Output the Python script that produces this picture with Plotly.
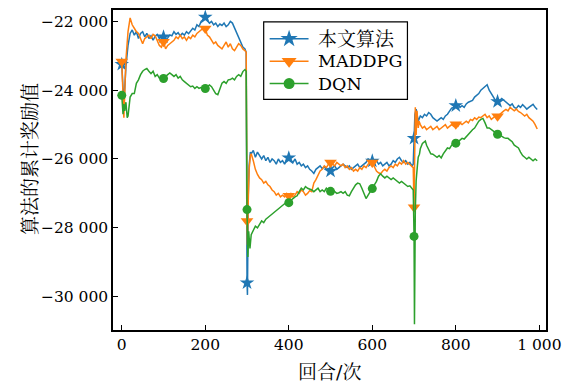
import plotly.graph_objects as go

# Episode grid shared by the three curves (every 5th episode)
episodes = list(range(0, 1000, 5))

# Cumulative reward of the proposed algorithm, sampled every 5 episodes
ours_reward = [
    -23250, -24400, -23300, -22700, -22350, -22250, -22400, -22300, -22500, -22350,
    -22300, -22450, -22350, -22500, -22420, -22550, -22430, -22380, -22500, -22420,
    -22450, -22550, -22480, -22400, -22420, -22300, -22380, -22330, -22420, -22350,
    -22400, -22300, -22360, -22280, -22200, -22250, -22100, -22150, -22000, -21950,
    -21880, -21980, -22050, -22000, -22100, -22050, -22150, -22080, -22120, -22050,
    -22150, -22100, -22000, -22050, -22200, -22350, -22500, -22600, -22750, -22800,
    -29600, -26200, -25850, -25750, -25950, -25800, -25900, -26000, -25900, -26050,
    -25950, -26100, -26000, -26050, -26150, -26000, -26100, -26050, -26150, -26000,
    -25970, -26050, -26100, -26000, -26150, -26100, -26200, -26150, -26250, -26200,
    -26300, -26350, -26420, -26300, -26250, -26200, -26280, -26220, -26300, -26280,
    -26350, -26250, -26200, -26300, -26250, -26200, -26150, -26200, -26250, -26200,
    -26300, -26250, -26200, -26150, -26250, -26200, -26150, -26100, -26000, -26050,
    -26060, -26100, -26050, -26150, -26100, -26200, -26150, -26100, -26200, -26150,
    -26050, -26100, -26000, -25950, -26050, -26100, -26050, -26150, -26100, -26200,
    -25400, -24550, -24900, -24750, -24800, -24700, -24750, -24650, -24700, -24800,
    -24850, -24900, -24850, -24800, -24850, -24750, -24700, -24600, -24520, -24500,
    -24450, -24410, -24500, -24450, -24500, -24400, -24350, -24330, -24300, -24200,
    -24150, -24100, -24000, -23950, -23890, -23840, -24000, -24100, -24200, -24300,
    -24330, -24300, -24240, -24300, -24350, -24400, -24450, -24400, -24500, -24530,
    -24450, -24500, -24420, -24480, -24550, -24500, -24450, -24410, -24500, -24560,
]
# Extra episodes logged around the environment resets
ours_extra = {298: -22900, 301: -29950, 303: -27000, 308: -25800,
              698: -26150, 702: -24700, 708: -24800}

maddpg_reward = [
    -23170, -24800, -23100, -22300, -21900, -22100, -22200, -22300, -22350, -22500,
    -22650, -22500, -22450, -22400, -22500, -22380, -22420, -22550, -22700, -22750,
    -22590, -22800, -22700, -22650, -22600, -22550, -22450, -22500, -22400, -22500,
    -22450, -22550, -22450, -22500, -22400, -22450, -22350, -22300, -22250, -22200,
    -22210, -22400, -22450, -22550, -22650, -22600, -22700, -22750, -22800, -22700,
    -22600, -22750, -22650, -22800, -22850, -22750, -22650, -22700, -22800, -22850,
    -27800, -26300, -25850, -26050, -26300, -26450, -26550, -26600, -26700, -26650,
    -26750, -26800, -26900, -26950, -27050, -27000, -27100, -27050, -27100, -27000,
    -27070, -27000, -27100, -27050, -26950, -27000, -26900, -26950, -27050, -27000,
    -26920, -26950, -26700, -26600, -26450, -26350, -26300, -26200, -26250, -26150,
    -26100, -26150, -26200, -26100, -26150, -26200, -26150, -26250, -26200, -26300,
    -26250, -26350, -26300, -26350, -26250, -26300, -26200, -26250, -26150, -26100,
    -26100, -26250, -26350, -26400, -26430, -26350, -26300, -26350, -26250, -26200,
    -26250, -26150, -26200, -26100, -26150, -26050, -26150, -26100, -26150, -26200,
    -27400, -25300, -25100, -25000, -25100, -25050, -25150, -25100, -25050, -25150,
    -25100, -25050, -25150, -25100, -25050, -25000, -25100, -25050, -25000, -25050,
    -24990, -25050, -24950, -25000, -24950, -24900, -24950, -24850, -24880, -24800,
    -24850, -24780, -24800, -24760, -24700, -24800, -24750, -24850, -24800, -24750,
    -24760, -24700, -24650, -24600, -24560, -24600, -24500, -24550, -24600, -24550,
    -24620, -24650, -24700, -24750, -24700, -24800, -24850, -24900, -25000, -25130,
]
maddpg_extra = {298: -22900, 301: -28500, 303: -27200, 308: -25900,
                698: -26250, 703: -24500, 707: -24600, 712: -24900}

dqn_reward = [
    -24150, -24400, -24350, -24750, -24200, -24100, -24100, -23800, -23700, -23550,
    -23450, -23400, -23370, -23450, -23520, -23450, -23600, -23550, -23650, -23600,
    -23660, -23600, -23550, -23500, -23550, -23600, -23550, -23650, -23600, -23700,
    -23750, -23800, -23850, -23900, -23880, -23950, -23900, -23950, -23920, -23980,
    -23950, -23900, -23850, -23900, -24000, -24100, -24130, -23950, -23800, -23750,
    -23800, -23700, -23690, -23650, -23700, -23600, -23550, -23600, -23460, -23400,
    -27470, -28400, -28200, -28050, -27950, -28000, -27880, -27800, -27850, -27750,
    -27700, -27650, -27600, -27550, -27500, -27450, -27400, -27350, -27300, -27250,
    -27270, -27200, -27150, -27100, -27070, -26950, -26850, -26900, -26800, -26850,
    -26870, -26900, -26950, -26900, -26850, -26950, -26900, -26950, -26850, -26900,
    -26940, -26900, -26950, -27000, -26980, -26950, -27000, -26950, -27050, -27070,
    -26950, -26850, -26750, -26700, -26720, -26850, -27000, -27150, -27050, -26950,
    -26860, -26750, -26650, -26500, -26430, -26500, -26550, -26500, -26550, -26600,
    -26550, -26600, -26650, -26700, -26650, -26700, -26750, -26800, -26780, -26840,
    -28250, -26630, -25950, -25700, -25550, -25500, -25600, -25750, -25850, -25860,
    -25900, -25950, -25900, -25970, -25850, -25750, -25680, -25700, -25600, -25550,
    -25540, -25500, -25450, -25400, -25420, -25350, -25300, -25200, -25150, -25100,
    -25000, -24900, -24850, -24820, -24950, -25100, -25100, -25150, -25200, -25250,
    -25280, -25300, -25350, -25380, -25400, -25400, -25450, -25500, -25600, -25650,
    -25680, -25800, -25900, -25950, -26000, -25950, -26000, -26050, -26000, -26050,
]
dqn_extra = {3: -24700, 7: -24600, 13: -24800, 18: -24400,
             298: -23450, 302: -28850, 304: -28100, 307: -28600,
             698: -26900, 701: -30800, 703: -27500, 708: -26200, 713: -25860,
             727: -25480}

series_names = ["本文算法", "MADDPG", "DQN"]
series_colors = ["#1f77b4", "#ff7f0e", "#2ca02c"]
series_symbols = ["star", "triangle-down", "circle"]
series_sizes = [11, 11, 9]
marker_episodes = list(range(0, 1000, 100))

x_ticks = [0, 200, 400, 600, 800, 1000]
x_ticktext = ["0", "200", "400", "600", "800", "1 000"]
y_ticks = [-30000, -28000, -26000, -24000, -22000]
y_ticktext = ["−30 000", "−28 000", "−26 000", "−24 000", "−22 000"]


def merged(base, extra):
    pts = dict(zip(episodes, base))
    pts.update(extra)
    xs = sorted(pts)
    return xs, [pts[k] for k in xs]


SERIF = "DejaVu Serif"
MIXED = "DejaVu Serif, Noto Serif CJK SC, serif"

# Legend frame and rows, in plot-area fractions
LEG_BOX = (0.348, 0.7205, 0.680, 0.9627)
LEG_ROWS = [0.910, 0.840, 0.770]
LEG_LINE = (0.3618, 0.4516)
LEG_TEXT_X = 0.4677
LEG_TEXT_SIZES = [19, 17.5, 17.5]

fig = go.Figure()
for name, base, extra, color, sym, size in zip(
        series_names,
        [ours_reward, maddpg_reward, dqn_reward],
        [ours_extra, maddpg_extra, dqn_extra],
        series_colors, series_symbols, series_sizes):
    xs, ys = merged(base, extra)
    fig.add_trace(go.Scatter(x=xs, y=ys, mode="lines", showlegend=False,
                             line=dict(color=color, width=1.5), hoverinfo="skip"))
    lookup = dict(zip(xs, ys))
    fig.add_trace(go.Scatter(x=marker_episodes, y=[lookup[e] for e in marker_episodes],
                             mode="markers", showlegend=False, name=name,
                             marker=dict(symbol=sym, size=size, color=color,
                                         line=dict(width=0))))

# Legend: frame, line samples, symbols and labels
shapes = [dict(type="rect", xref="paper", yref="paper",
               x0=LEG_BOX[0], y0=LEG_BOX[1], x1=LEG_BOX[2], y1=LEG_BOX[3],
               line=dict(color="black", width=1.2), fillcolor="white", layer="below")]
annotations = []
for name, color, ry, tsize in zip(series_names, series_colors, LEG_ROWS, LEG_TEXT_SIZES):
    shapes.append(dict(type="line", xref="paper", yref="paper",
                       x0=LEG_LINE[0], x1=LEG_LINE[1], y0=ry, y1=ry,
                       line=dict(color=color, width=1.5), layer="below"))
    annotations.append(dict(text=name, xref="paper", yref="paper", x=LEG_TEXT_X, y=ry,
                            xanchor="left", yanchor="middle", showarrow=False,
                            font=dict(family=MIXED, size=tsize, color="black")))
for color, sym, size, ry in zip(series_colors, series_symbols, series_sizes, LEG_ROWS):
    fig.add_trace(go.Scatter(x=[(LEG_LINE[0] + LEG_LINE[1]) / 2], y=[ry],
                             xaxis="x2", yaxis="y2", mode="markers", showlegend=False,
                             hoverinfo="skip",
                             marker=dict(symbol=sym, size=size + 2, color=color,
                                         line=dict(width=0))))

annotations += [
    dict(text="回合/次", xref="paper", yref="paper", x=0.5, y=-0.172,
         xanchor="center", yanchor="bottom", showarrow=False,
         font=dict(family=MIXED, size=19, color="black")),
    dict(text="算法的累计奖励值", xref="paper", yref="paper", x=-0.192, y=0.534,
         xanchor="center", yanchor="middle", textangle=-90, showarrow=False,
         font=dict(family=MIXED, size=19, color="black")),
]

axis_common = dict(showline=True, mirror=True, linecolor="black", linewidth=1.5,
                   ticks="inside", ticklen=5, tickwidth=1.2, tickcolor="black",
                   showgrid=False, zeroline=False,
                   tickfont=dict(family=SERIF, size=15.5, color="black"))

fig.update_layout(
    width=569, height=386,
    margin=dict(l=113, r=22, t=8, b=56),
    paper_bgcolor="white", plot_bgcolor="white",
    font=dict(family=SERIF, size=18, color="black"),
    showlegend=False,
    xaxis=dict(range=[-21, 1016], tickvals=x_ticks, ticktext=x_ticktext, **axis_common),
    yaxis=dict(range=[-30970, -21670], tickvals=y_ticks, ticktext=y_ticktext, **axis_common),
    xaxis2=dict(overlaying="x", range=[0, 1], visible=False, fixedrange=True),
    yaxis2=dict(overlaying="y", range=[0, 1], visible=False, fixedrange=True),
    shapes=shapes,
    annotations=annotations,
)

fig.write_html("out.html")
